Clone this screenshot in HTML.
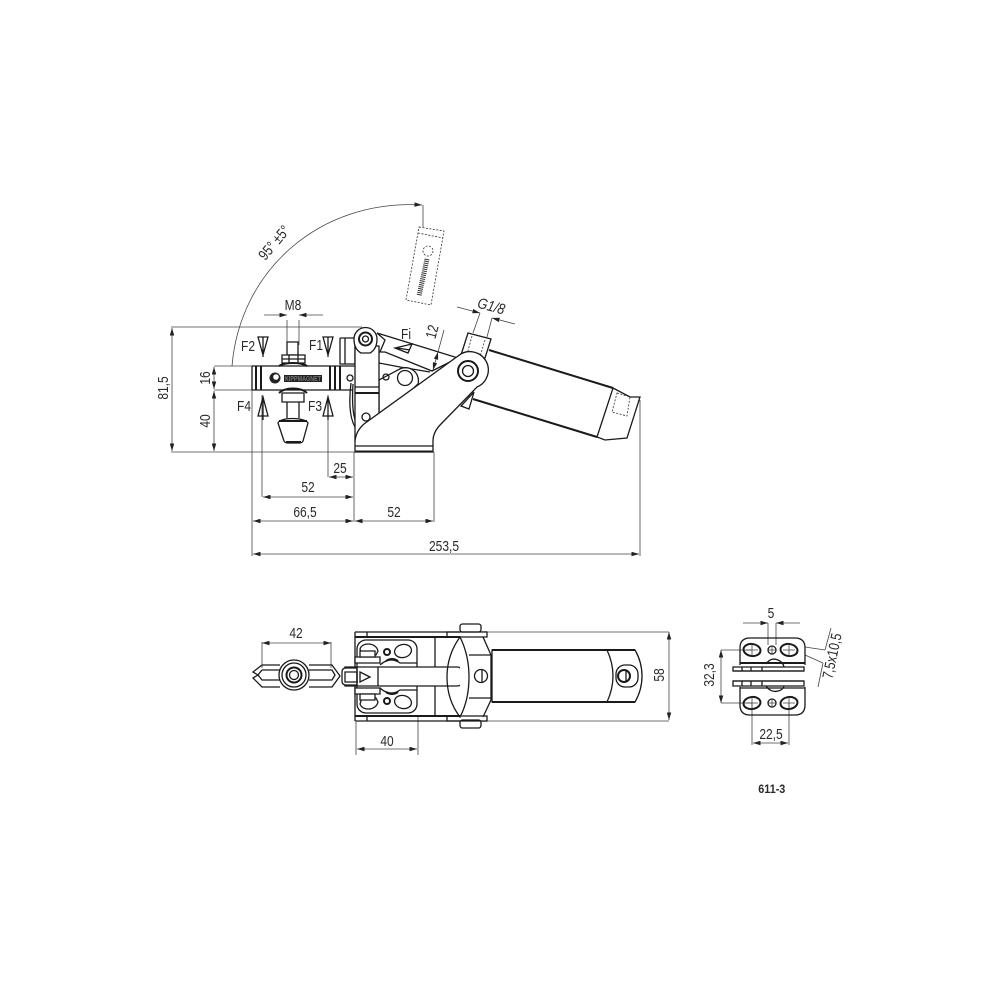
<!DOCTYPE html>
<html><head><meta charset="utf-8"><style>
html,body{margin:0;padding:0;background:#fff}
svg{display:block}
text{font-family:"Liberation Sans",sans-serif;fill:#2a2a2a}
.t{font-size:15px}
.s{fill:none;stroke:#1a1a1a;stroke-width:1.3}
.k{fill:none;stroke:#1a1a1a;stroke-width:2}
.w{fill:#fff;stroke:#1a1a1a;stroke-width:1.3}
.n{fill:#fff;stroke:none}
.d{fill:none;stroke:#444;stroke-width:.8}
.a{fill:none;stroke:#444;stroke-width:.8;marker-start:url(#m);marker-end:url(#m)}
.e{fill:none;stroke:#444;stroke-width:.8;marker-end:url(#m)}
.h{fill:none;stroke:#333;stroke-width:.8;stroke-dasharray:2 1.5}
</style></head><body>
<svg width="1000" height="1000" viewBox="0 0 1000 1000" xmlns="http://www.w3.org/2000/svg">
<defs>
<marker id="m" viewBox="0 0 10 6" refX="10" refY="3" markerUnits="userSpaceOnUse" markerWidth="8" markerHeight="4.500" orient="auto-start-reverse"><path d="M0 0L10 3L0 6Z" fill="#222"/></marker>
</defs>

<!-- dimension lines, main view -->
<path class="d" d="M171 327H362M171 452H354M214 366H253M214 390H353"/>
<path class="a" d="M172 328V451"/>
<path class="a" d="M214 367V389"/>
<path class="a" d="M214 391V451"/>
<path class="d" d="M252 390V556M262 395V497M328 395V477M354 452V522M434 452V522M640 400V556"/>
<path class="a" d="M329 477H353"/>
<path class="a" d="M263 497H353"/>
<path class="a" d="M253 521H353"/>
<path class="a" d="M355 521H433"/>
<path class="a" d="M253 554H639"/>
<text class="t" transform="translate(168 388) rotate(-90) scale(.8 1)" text-anchor="middle">81,5</text>
<text class="t" transform="translate(210 378) rotate(-90) scale(.8 1)" text-anchor="middle">16</text>
<text class="t" transform="translate(210 421) rotate(-90) scale(.8 1)" text-anchor="middle">40</text>
<text class="t" transform="translate(340 473) scale(.8 1)" text-anchor="middle">25</text>
<text class="t" transform="translate(308 492) scale(.8 1)" text-anchor="middle">52</text>
<text class="t" transform="translate(305 517) scale(.8 1)" text-anchor="middle">66,5</text>
<text class="t" transform="translate(394 517) scale(.8 1)" text-anchor="middle">52</text>
<text class="t" transform="translate(444 551) scale(.8 1)" text-anchor="middle">253,5</text>

<!-- arc & swing -->
<path class="e" d="M232 366C240 270 320 199 422 205"/>
<path class="d" d="M423 205V227"/>
<text class="t" transform="translate(278 246) rotate(-50) scale(.8 1)" text-anchor="middle">95° ±5°</text>
<path class="h" d="M419 227L444 231L431 305L406 300Z M418 233L443 238"/>
<circle cx="428" cy="251" r="5" class="h" stroke-width="1.200"/>
<path d="M427 259L419 296" stroke="#333" stroke-width="5" stroke-dasharray="1 1" fill="none"/>

<!-- M8 -->
<path class="d" d="M287 320V345M299 320V345"/>
<path class="e" d="M264 315H287"/>
<path class="e" d="M323 315H299"/>
<text class="t" transform="translate(293 310) scale(.8 1)" text-anchor="middle">M8</text>

<!-- F labels -->
<text class="t" transform="translate(248 351) scale(.8 1)" text-anchor="middle">F2</text>
<text class="t" transform="translate(316 350) scale(.8 1)" text-anchor="middle">F1</text>
<text class="t" transform="translate(244 411) scale(.8 1)" text-anchor="middle">F4</text>
<text class="t" transform="translate(315 411) scale(.8 1)" text-anchor="middle">F3</text>
<text class="t" transform="translate(406 339) scale(.8 1)" text-anchor="middle">Fi</text>
<path class="s" d="M258 337L263 355L268 337Z M263 337V357M323 337L328 355L333 337Z M328 337V357"/>
<path class="s" d="M258 416L263 397L268 416Z M263 397V420M323 416L328 397L333 416Z M328 397V420"/>

<!-- spindle -->
<path class="s" d="M287 342H298V355H287Z"/>
<path class="w" d="M282 355H305V363H282Z"/>
<path class="s" d="M282 359H305M289 355V363M298 355V363"/>
<path class="k" d="M279 366C285 362 301 362 307 366"/>

<!-- bar -->
<path class="s" d="M252 366H355M252 390H353M252 366V390"/>
<path class="k" d="M256 366V390M261 366V390M330 366V390M335 366V390M340 366V390"/>
<circle cx="275" cy="378" r="5.500" fill="#222"/><circle cx="276" cy="377" r="2.800" fill="#fff"/>
<rect x="284" y="375" width="38" height="7" fill="#222"/>
<text x="285" y="381" font-size="7" font-weight="bold" style="fill:#777" textLength="36" lengthAdjust="spacingAndGlyphs">KIPPMAGNET</text>

<!-- lower spindle and tip -->
<path class="k" d="M279 393C285 387 301 387 307 393"/>
<path class="w" d="M282 393H304V402H282Z"/>
<path class="s" d="M287 402V418M299 402V418"/>
<path class="w" d="M278 423C280 417 305 417 308 423L303 441Q302 443 299 443H288Q285 443 284 441Z"/>
<path class="k" d="M279 421H307M286 442H301"/>

<!-- handle cylinder -->
<path class="n" d="M489 350L613 388L597 437L473 399Z"/>
<path class="k" d="M489 350L613 388M473 399L597 437" stroke-width="1.600"/>
<path class="w" d="M613 388L630 397L640 397L627 438L605 440L597 437Z"/>
<path class="h" d="M617 393L630 397L627 416L612 412Z"/>
<!-- port -->
<path class="w" d="M461 355L468 333L491 339L485 358Z"/>
<path class="h" d="M472 336L466 358M485 340L479 360"/>
<path class="d" d="M473 333L480 313M487 337L492 318"/>
<path class="e" d="M457 307L480 313"/>
<path class="e" d="M515 324L492 318"/>
<text class="t" transform="translate(490 311) rotate(15) scale(.85 1)" text-anchor="middle" font-style="italic">G1/8</text>
<path class="w" d="M461 406L469 409L474 392Z"/>

<!-- upper lever -->
<path class="w" d="M377 333L458 358L432 371L385 352L380 352L385 340Z"/>
<path class="s" d="M395 348L412 344L408 353Z M397 348L410 350"/>
<path class="d" d="M444 330L438 352"/>
<path class="a" d="M438 352L433 370"/>
<text class="t" transform="translate(437 333) rotate(-75) scale(.8 1)" text-anchor="middle">12</text>

<!-- mid linkage -->
<path class="s" d="M340 338H355V364H345V338M340 338V364H345"/>
<path class="s" d="M379 363L400 367L430 372"/>
<path class="w" d="M379 380L398 370A13 13 0 0 1 418 384L379 420Z"/>
<circle cx="405" cy="378" r="7.500" class="w"/>
<circle cx="386" cy="377" r="3" class="s"/>
<circle cx="350" cy="378" r="3" class="s"/>
<path class="s" d="M351 383C349 400 349 420 357 430M353 384C352 400 352 418 358 426"/>

<!-- vertical link -->
<path class="w" d="M355 346H379V428L355 440Z"/>
<path class="s" d="M355 387H379"/>
<path class="k" d="M355 393H379"/>
<circle cx="366" cy="417" r="4" class="s"/>
<path class="w" d="M354 339A11.500 11.500 0 1 1 377 339Q377 349 370 353H361Q354 349 354 339Z"/>
<circle cx="365.500" cy="339" r="6.500" class="k"/>
<circle cx="365.500" cy="339" r="3" class="s"/>

<!-- base plate -->
<path class="w" d="M355 452V441Q356 431 364 424L458 356A18.400 18.400 0 1 1 477 387L441 424Q433 432 433 441V452Z"/>
<path class="s" d="M355 446H433"/>
<path class="k" d="M355 451.500H433"/>
<circle cx="468" cy="371" r="10" class="k"/>
<circle cx="468" cy="371" r="5.500" class="s"/>

<!-- top view dims -->
<path class="d" d="M262 642V668M331 642V668"/>
<path class="a" d="M262 643H331"/>
<text class="t" transform="translate(296 638) scale(.8 1)" text-anchor="middle">42</text>
<path class="d" d="M487 632H669M487 721H669M356 722V755M418 715V755"/>
<path class="a" d="M669 632V720"/>
<text class="t" transform="translate(664 675) rotate(-90) scale(.8 1)" text-anchor="middle">58</text>
<path class="a" d="M357 749H417"/>
<text class="t" transform="translate(387 746) scale(.8 1)" text-anchor="middle">40</text>

<!-- fork -->
<path class="s" d="M262 665H280M309 665H332L340 676L332 687H309M280 687H262L253 678L258 675L253 672L262 665"/>
<path class="s" d="M262 670H280M309 670H332L335 675L332 680H309M280 680H262L258 675L262 670"/>
<circle cx="294" cy="675" r="15" class="w"/>
<circle cx="294" cy="675" r="12" class="s"/>
<circle cx="294" cy="675" r="7.500" class="k"/>
<circle cx="294" cy="675" r="4.500" class="s"/>

<!-- frame -->
<path class="s" d="M355 632H487M355 721H487M355 632V721M367 632V637M367 716V721M435 637V716"/>
<path class="k" d="M355 637H487M355 716H487"/>
<rect x="357" y="640" width="60" height="73" rx="9" class="s"/>
<path class="s" d="M360 649C362 642 376 642 378 651L376 655H362Z"/>
<path class="s" d="M360 704C362 711 376 711 378 702L376 698H362Z"/>
<ellipse cx="403" cy="651" rx="8.500" ry="6.500" class="s" transform="rotate(-12 403 651)"/>
<ellipse cx="403" cy="702" rx="8.500" ry="6.500" class="s" transform="rotate(12 403 702)"/>
<circle cx="387" cy="652" r="3" class="k"/>
<circle cx="387" cy="701" r="3" class="k"/>
<path class="w" d="M355 657H380V663H355ZM355 688H380V694H355Z"/>
<path class="w" d="M360 651H375V657H360ZM360 694H375V700H360Z"/>
<path class="s" d="M380 665Q390 656 400 663H417M380 688Q390 697 400 690H417"/>
<path class="k" d="M386 661Q392 657 398 661M386 692Q392 696 398 692"/>
<!-- handle stem -->
<path class="w" d="M345 667H457Q462 667 462 672V681Q462 686 457 686H345Z"/>
<path class="w" d="M342 672Q342 668 346 668H357V685H346Q342 685 342 681Z"/>
<path class="s" d="M345 672H357V682H345ZM360 672L370 677L360 682Z"/>
<path class="s" d="M357 667V686M378 667V686"/>

<!-- clamp -->
<path class="w" d="M460 632H487V721H460Z" style="stroke:none"/>
<path class="s" d="M460 637Q447 655 447 677Q447 700 460 717Q469 700 469 677Q469 655 460 637Z"/>
<path class="s" d="M483 637L491 655V700L483 717M469 655H491M469 698H491"/>
<rect x="460" y="624" width="21" height="8" rx="2.500" class="w"/>
<rect x="460" y="720" width="21" height="8" rx="2.500" class="w"/>
<path class="s" d="M447 632H487V637H447ZM447 716H487V721H447Z"/>
<circle cx="481" cy="676" r="6.500" class="s"/>
<path class="s" d="M482 670V682"/>

<!-- cylinder top -->
<path class="w" d="M492 650H635Q642 662 642 676Q642 690 635 702H492Z"/>
<path class="k" d="M492 650H635M492 702H635" stroke-width="1.600"/>
<path class="s" d="M607 650Q619 676 607 702"/>
<rect x="616" y="665" width="22" height="22" rx="9" class="s"/>
<circle cx="624" cy="676" r="6" class="k"/>
<path class="s" d="M626 670V682"/>

<!-- end view -->
<path class="d" d="M768 623V645M776 623V645"/>
<path class="e" d="M743 623H768"/>
<path class="e" d="M800 623H776"/>
<text class="t" transform="translate(771 618) scale(.8 1)" text-anchor="middle">5</text>
<path class="d" d="M721 650H752M721 703H752"/>
<path class="a" d="M721 650V703"/>
<text class="t" transform="translate(714 675) rotate(-90) scale(.8 1)" text-anchor="middle">32,3</text>
<path class="d" d="M752 703V745M789 703V745"/>
<path class="a" d="M753 743H788"/>
<text class="t" transform="translate(771 739) scale(.8 1)" text-anchor="middle">22,5</text>

<path class="d" d="M805 647L825 650M805 655L823 663M831 628L825 650M823 663L818 687"/>
<text class="t" transform="translate(837 657) rotate(-78) scale(.8 1)" text-anchor="middle">7,5x10,5</text>

<path class="s" d="M740 665V648Q740 638 750 638H795Q805 638 805 648V665"/>
<path class="k" d="M740 663H805"/>
<path class="s" d="M740 687V705Q740 715 750 715H795Q805 715 805 705V687"/>
<path class="s" d="M733 667H804V671H733ZM733 681H804V686H733ZM742 667V671M751 667V671M762 667V671M742 681V686M751 681V686M762 681V686"/>
<path class="s" d="M733 671H804M733 681H804M740 688H805"/>
<path class="s" d="M766 664Q771 657 778 660Q783 662 784 667M766 686Q771 693 778 691Q783 690 784 686"/>
<ellipse cx="752" cy="650" rx="8.500" ry="6" class="k" transform="rotate(8 752 650)"/>
<ellipse cx="789" cy="650" rx="8.500" ry="6" class="k" transform="rotate(8 789 650)"/>
<ellipse cx="752" cy="703" rx="8.500" ry="6" class="k" transform="rotate(-8 752 703)"/>
<ellipse cx="789" cy="703" rx="8.500" ry="6" class="k" transform="rotate(-8 789 703)"/>
<circle cx="772" cy="650" r="4" class="s"/><circle cx="772" cy="703" r="4" class="s"/>
<path class="d" d="M746 650H758M752 645V655M783 650H795M789 645V655M746 703H758M752 698V708M783 703H795M789 698V708M768 650H776M772 646V654M768 703H776M772 699V707"/>

<text x="772" y="793" text-anchor="middle" font-size="12" font-weight="bold" transform="translate(77 0) scale(.9 1)">611-3</text>
</svg>
</body></html>
